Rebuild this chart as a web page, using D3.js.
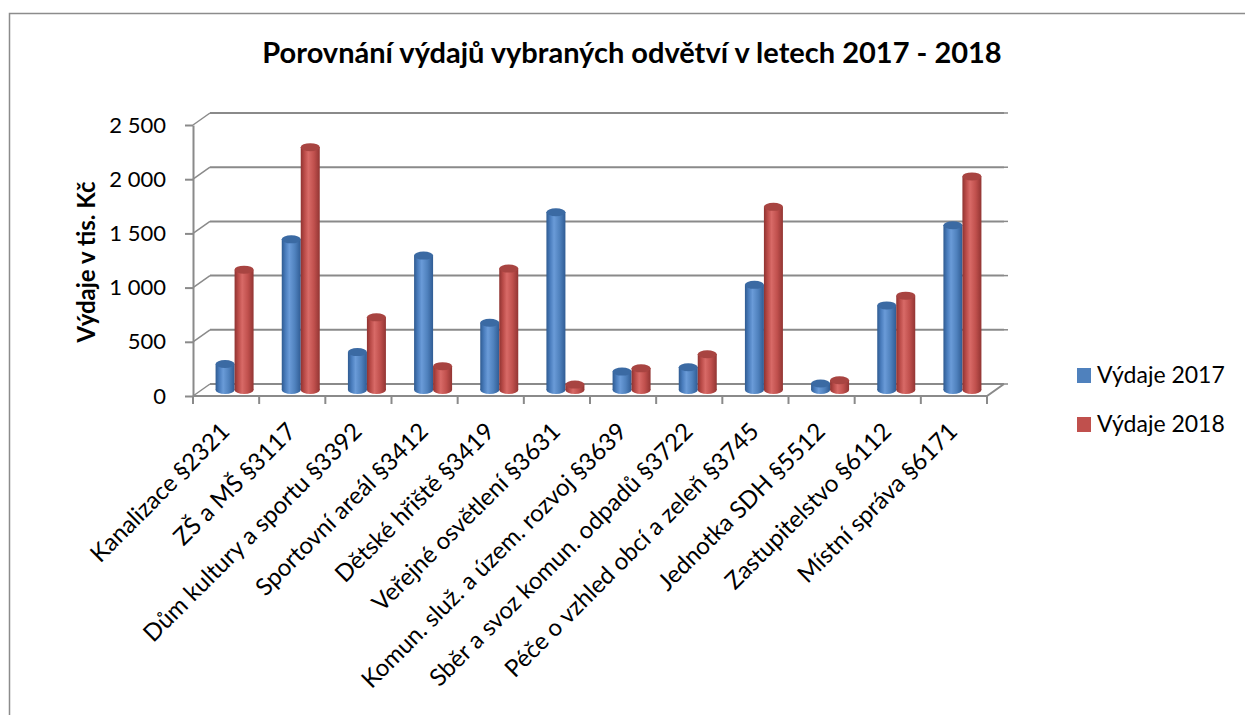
<!DOCTYPE html>
<html>
<head>
<meta charset="utf-8">
<script src="https://cdn.jsdelivr.net/npm/d3@7"></script>
<style>
  body { margin: 0; background: #fff; }
  svg { font-family: Lato, "Open Sans", sans-serif; }
</style>
</head>
<body>
<svg width="1245" height="715"></svg>
<script>
// data (tis. Kč)
var categories = [
  "Kanalizace §2321", "ZŠ a MŠ §3117", "Dům kultury a sportu §3392",
  "Sportovní areál §3412", "Dětské hřiště §3419", "Veřejné osvětlení §3631",
  "Komun. služ. a územ. rozvoj §3639", "Sběr a svoz komun. odpadů §3722",
  "Péče o vzhled obcí a zeleň §3745", "Jednotka SDH §5512",
  "Zastupitelstvo §6112", "Místní správa §6171"
];
var values2017 = [240, 1390, 350, 1240, 620, 1640, 170, 210, 970, 60, 780, 1520];
var values2018 = [1110, 2240, 670, 220, 1120, 50, 200, 330, 1690, 90, 870, 1970];
var seriesNames = ["Výdaje 2017", "Výdaje 2018"];
var yTicks = [0, 500, 1000, 1500, 2000, 2500];

var colors = ["#4f81bd", "#c0504d"];

var svg = d3.select("svg");

// chart frame
svg.append("path")
    .attr("d", "M9.5,715 V13.5 H1245")
    .attr("fill", "none")
    .attr("stroke", "#8c8c8c")
    .attr("stroke-width", 1.5);

svg.append("text")
    .attr("x", 632)
    .attr("y", 63)
    .attr("text-anchor", "middle")
    .style("font-size", "29px")
    .style("font-weight", "bold")
    .text("Porovnání výdajů vybraných odvětví v letech 2017 - 2018");

// 3d depth offset of the back wall
var depth = {dx: 17, dy: -12};

var x = d3.scaleBand()
    .domain(categories)
    .range([193, 987]);

var y = d3.scaleLinear()
    .domain([0, 2500])
    .range([396, 125]);

function yBack(v) { return y(v) + depth.dy; }
function yMid(v) { return y(v) + depth.dy / 2; }

var g = svg.append("g");

// back wall grid + side wall diagonals
yTicks.forEach(function(v) {
  g.append("line")
      .attr("x1", 193 + depth.dx).attr("x2", 987 + depth.dx)
      .attr("y1", yBack(v)).attr("y2", yBack(v))
      .attr("stroke", "#8a8a8a").attr("stroke-width", 2);
  g.append("line")
      .attr("x1", 193).attr("x2", 193 + depth.dx)
      .attr("y1", y(v)).attr("y2", yBack(v))
      .attr("stroke", "#8a8a8a").attr("stroke-width", 1.5);
  g.append("line")
      .attr("x1", 987 + depth.dx).attr("x2", 987 + depth.dx + 4)
      .attr("y1", yBack(v)).attr("y2", yBack(v))
      .attr("stroke", "#8a8a8a").attr("stroke-width", 1.5);
});

// floor front + right edge
g.append("path")
    .attr("d", "M193," + y(0) + " H987 L" + (987 + depth.dx) + "," + yBack(0))
    .attr("fill", "none")
    .attr("stroke", "#8a8a8a")
    .attr("stroke-width", 2);

// y axis
var fmt = d3.formatLocale({decimal: ",", thousands: "\u00a0", grouping: [3], currency: ["", " Kč"]}).format(",d");

g.append("g")
    .attr("transform", "translate(193,0)")
    .call(d3.axisLeft(y).tickValues(yTicks).tickSize(8).tickSizeOuter(0).tickFormat(fmt).tickPadding(19))
    .call(function(a) {
      a.select(".domain").attr("stroke", "#8a8a8a").attr("stroke-width", 2);
      a.selectAll(".tick line").attr("stroke", "#8a8a8a").attr("stroke-width", 2);
      a.selectAll("text").attr("fill", "#000").style("font-size", "22px").style("font-family", "Lato, sans-serif");
    });

svg.append("text")
    .attr("transform", "translate(95,262) rotate(-90)")
    .attr("text-anchor", "middle")
    .style("font-size", "24px")
    .style("font-weight", "bold")
    .text("Výdaje v tis. Kč");

// category ticks between bands
x.domain().concat([null]).forEach(function(c) {
  var px = c === null ? 987 : x(c);
  g.append("line")
      .attr("x1", px).attr("x2", px)
      .attr("y1", y(0)).attr("y2", y(0) + 8)
      .attr("stroke", "#8a8a8a").attr("stroke-width", 2);
});

// category labels
g.selectAll(".xlab")
    .data(categories)
  .enter().append("text")
    .attr("class", "xlab")
    .attr("text-anchor", "end")
    .attr("transform", function(d) {
      return "translate(" + (x(d) + x.bandwidth() / 2 + 5) + "," + 433 + ") rotate(-45)";
    })
    .style("font-size", "24px")
    .text(function(d) { return d; });

// cylinder gradients
var defs = svg.append("defs");
var shades = [
  ["#2f5b91", "#4a7dbd", "#6a9bd8", "#4f81bd", "#305c94"],
  ["#8f3331", "#bb4c49", "#d86a67", "#c0504d", "#923533"]
];
shades.forEach(function(s, i) {
  var lg = defs.append("linearGradient")
      .attr("id", "cyl" + i)
      .attr("x1", "0").attr("x2", "1").attr("y1", "0").attr("y2", "0");
  [0, 0.2, 0.4, 0.7, 1].forEach(function(o, k) {
    lg.append("stop").attr("offset", o).attr("stop-color", s[k]);
  });
});
var capColors = ["#3b6aa3", "#a84441"];

// bars as cylinders, drawn at half depth
var barW = 19, ry = 4;
var series = [values2017, values2018];

series.forEach(function(vals, si) {
  var bars = g.selectAll(".bar" + si)
      .data(categories.map(function(c, i) { return {cat: c, value: vals[i]}; }))
    .enter().append("g")
      .attr("class", "bar" + si);

  function cx(d) { return x(d.cat) + x.bandwidth() / 2 + depth.dx / 2 - barW + si * barW + barW / 2; }

  bars.append("ellipse")
      .attr("cx", cx)
      .attr("cy", yMid(0))
      .attr("rx", barW / 2)
      .attr("ry", ry)
      .attr("fill", "url(#cyl" + si + ")");

  bars.append("rect")
      .attr("x", function(d) { return cx(d) - barW / 2; })
      .attr("y", function(d) { return yMid(d.value); })
      .attr("width", barW)
      .attr("height", function(d) { return yMid(0) - yMid(d.value); })
      .attr("fill", "url(#cyl" + si + ")");

  bars.append("ellipse")
      .attr("cx", cx)
      .attr("cy", function(d) { return yMid(d.value); })
      .attr("rx", barW / 2)
      .attr("ry", ry)
      .attr("fill", capColors[si]);
});

// legend
var legend = svg.append("g")
    .attr("transform", "translate(1077,368)");

legend.selectAll("g")
    .data(seriesNames)
  .enter().append("g")
    .attr("transform", function(d, i) { return "translate(0," + (i * 49) + ")"; })
    .each(function(d, i) {
      d3.select(this).append("rect")
          .attr("width", 14).attr("height", 15)
          .attr("fill", colors[i]);
      d3.select(this).append("text")
          .attr("x", 20).attr("y", 15)
          .style("font-size", "23px")
          .text(d);
    });
</script>
</body>
</html>
